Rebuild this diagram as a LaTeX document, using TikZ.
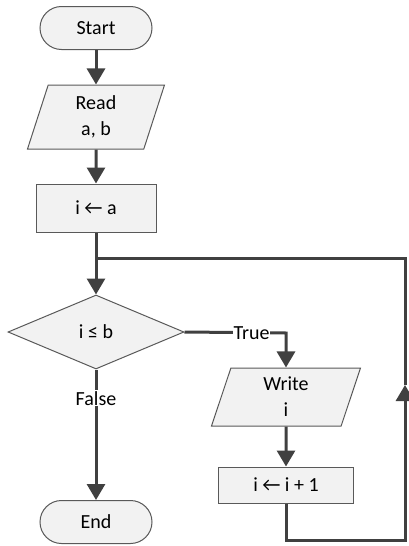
\documentclass[tikz,border=0pt]{standalone}
\usepackage{fontspec}
\setmainfont{Carlito}
\usetikzlibrary{arrows.meta,shapes.geometric}
\definecolor{LineClr}{HTML}{404040}
\definecolor{EdgeClr}{HTML}{595959}
\definecolor{BoxClr}{HTML}{F2F2F2}

\begin{document}
\begin{tikzpicture}[x=1pt,y=-1pt,
  font=\fontsize{20}{26}\selectfont,
  shapebox/.style={draw=EdgeClr,fill=BoxClr,line width=1pt,inner sep=0pt,align=center},
  terminal/.style={shapebox,rectangle,rounded corners=21.5pt,minimum width=112pt,minimum height=43pt},
  process/.style={shapebox,rectangle},
  io/.style={shapebox,trapezium,trapezium left angle=64,trapezium right angle=116,trapezium stretches body},
  decision/.style={shapebox,diamond,minimum width=176pt,minimum height=74pt},
  flow/.style={draw=LineClr,line width=3pt,-{Triangle[length=16pt,width=18pt]}},
  wire/.style={draw=LineClr,line width=3pt},
  lbl/.style={fill=white,inner sep=1pt}]
\useasboundingbox (0,0) rectangle (409,546);

\node[terminal] (start) at (96,28) {Start};
\node[io,minimum width=137pt,minimum height=64pt] (read) at (96,117) {Read\\a, b};
\node[process,minimum width=120pt,minimum height=48pt] (init) at (96,208) {i ← a};
\coordinate (join) at (96,258);
\node[decision] (test) at (96,332) {i ≤ b};
\node[io,minimum width=149pt,minimum height=58pt] (write) at (286,397) {Write\\i};
\node[process,minimum width=135pt,minimum height=36pt] (incr) at (286,485) {i ← i + 1};
\node[terminal] (stop) at (96,522) {End};

\coordinate (bendT) at (286,333);
\coordinate (loopA) at (286,540);
\coordinate (loopB) at (405,540);
\coordinate (loopC) at (405,385);
\coordinate (loopD) at (405,258);

\draw[flow] (start) -- (read);
\draw[flow] (read) -- (init);
\draw[flow] (init) -- (test);
\draw[flow] (test.east) -- node[lbl,pos=.66]{True} (bendT) -- (write);
\draw[flow] (write) -- (incr);
\draw[flow] (test) -- node[lbl,pos=.22]{False} (stop);
\draw[flow] (incr) -- (loopA) -- (loopB) -- (loopC);
\draw[wire] (loopC) -- (loopD) -- (join);

\end{tikzpicture}
\end{document}
